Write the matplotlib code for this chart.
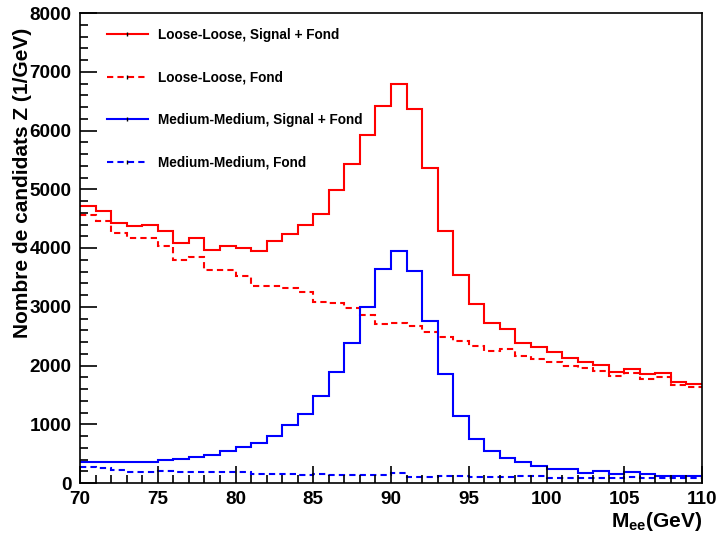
"""
Z -> ee invariant mass: Loose-Loose vs Medium-Medium selections,
signal + background (solid) and background only (dashed), ROOT style.
"""
import matplotlib
matplotlib.use("Agg")
import matplotlib.pyplot as plt
from matplotlib.lines import Line2D
from matplotlib.ticker import MultipleLocator
import numpy as np

plt.rcParams["font.family"] = ["Liberation Sans", "DejaVu Sans"]
plt.rcParams["font.weight"] = "bold"
plt.rcParams["mathtext.fontset"] = "custom"
plt.rcParams["mathtext.rm"] = "Liberation Sans:bold"
plt.rcParams["mathtext.bf"] = "Liberation Sans:bold"

# 1 GeV bins, 70 -> 110
edges = np.arange(70, 111, 1)

loose_sig = [4707, 4622, 4424, 4366, 4395, 4293, 4083, 4162, 3969, 4026,
             3998, 3952, 4111, 4236, 4395, 4577, 4991, 5434, 5928, 6422,
             6792, 6371, 5361, 4293, 3532, 3044, 2731, 2629, 2390, 2322,
             2237, 2135, 2056, 2010, 1896, 1942, 1852, 1869, 1721, 1692]
loose_bkg = [4554, 4452, 4254, 4162, 4162, 4026, 3799, 3855, 3629, 3629,
             3515, 3356, 3356, 3317, 3249, 3089, 3061, 2976, 2862, 2703,
             2731, 2675, 2578, 2493, 2419, 2340, 2254, 2288, 2164, 2107,
             2056, 1999, 1953, 1914, 1828, 1868, 1772, 1811, 1670, 1641]
medium_sig = [363, 363, 363, 363, 363, 386, 414, 448, 471, 545,
              619, 676, 806, 988, 1170, 1488, 1897, 2390, 2993, 3640,
              3952, 3612, 2760, 1852, 1147, 755, 545, 420, 363, 290,
              239, 239, 176, 204, 153, 182, 153, 125, 125, 125]
medium_bkg = [267, 250, 221, 182, 182, 204, 182, 182, 182, 182,
              182, 153, 153, 153, 136, 160, 136, 136, 136, 136,
              165, 108, 108, 119, 125, 108, 108, 108, 119, 119,
              91, 91, 79, 91, 91, 108, 79, 79, 79, 79]

labels = ["Loose-Loose, Signal + Fond", "Loose-Loose, Fond",
          "Medium-Medium, Signal + Fond", "Medium-Medium, Fond"]

dash = (0, (3, 2))
styles = [("#ff0000", "-"), ("#ff0000", dash), ("#0000ff", "-"), ("#0000ff", dash)]

fig = plt.figure(figsize=(7.19, 5.34), dpi=100)
ax = fig.add_axes([80 / 719, 51 / 534, 622 / 719, 470 / 534])

for vals, (col, ls) in zip([loose_sig, loose_bkg, medium_sig, medium_bkg], styles):
    ax.stairs(vals, edges, baseline=None, color=col, linestyle=ls, linewidth=1.5)

ax.set_xlim(70, 110)
ax.set_ylim(0, 8000)
ax.xaxis.set_major_locator(MultipleLocator(5))
ax.xaxis.set_minor_locator(MultipleLocator(1))
ax.yaxis.set_major_locator(MultipleLocator(1000))
ax.yaxis.set_minor_locator(MultipleLocator(200))
ax.tick_params(which="both", direction="in", top=False, right=False,
               labelsize=13.6, width=1.2, pad=6)
ax.tick_params(which="major", length=12)
ax.tick_params(which="minor", length=6)
for s in ax.spines.values():
    s.set_linewidth(1.2)

ax.set_ylabel("Nombre de candidats Z (1/GeV)", loc="top", fontsize=15,
              fontweight="bold")
ax.yaxis.set_label_coords(-0.077, 0.968)
ax.set_xlabel(r"M$_{\mathbf{ee}}$(GeV)", loc="right", fontsize=15,
              fontweight="bold")
ax.xaxis.set_label_coords(1.0, -0.058)

handles = [Line2D([], [], color=c, linestyle=ls, linewidth=1.5,
                  marker="|", markersize=3, markeredgecolor="black",
                  markevery=[1], markeredgewidth=1)
           for c, ls in styles]
for h in handles:
    h.set_data([0, 0.5, 1], [0, 0, 0])
ax.legend(handles, labels, loc="upper left", frameon=False, fontsize=9.8,
          bbox_to_anchor=(107 / 719, 1 - 28 / 534), bbox_transform=fig.transFigure,
          borderpad=0, borderaxespad=0, handlelength=3.0, handletextpad=0.75,
          labelspacing=2.1, prop={"weight": "bold", "size": 9.8})

fig.savefig("out.png", dpi=100)
